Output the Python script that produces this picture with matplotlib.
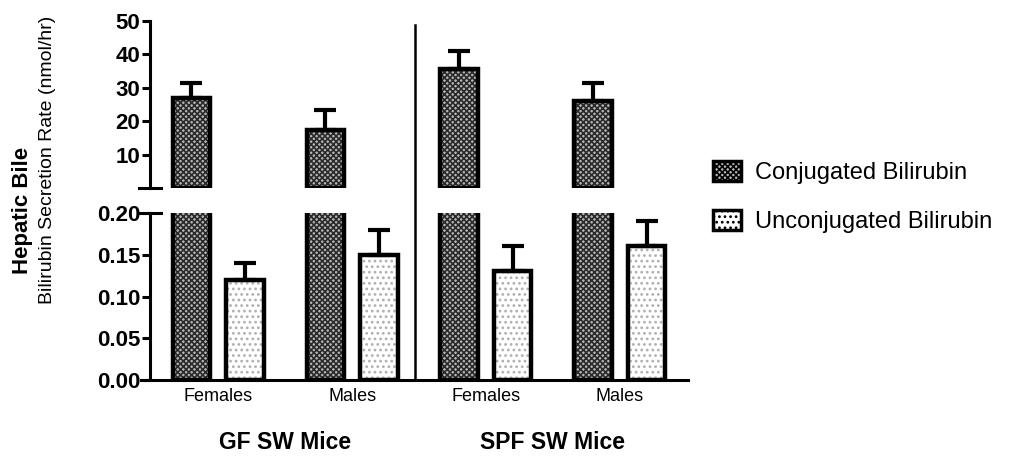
import numpy as np
import matplotlib
matplotlib.use('Agg')
import matplotlib.pyplot as plt
from matplotlib.patches import Patch

plt.rcParams['font.family'] = ['Liberation Sans', 'DejaVu Sans']
plt.rcParams['hatch.linewidth'] = 1.2

#------- data
groups = ['Females', 'Males', 'Females', 'Males']
mice = ['GF SW Mice', 'SPF SW Mice']
conj = [27.0, 17.5, 35.5, 26.0]
conj_err = [4.5, 6.0, 5.5, 5.5]
unconj = [0.12, 0.15, 0.13, 0.16]
unconj_err = [0.02, 0.03, 0.03, 0.03]
top_ticks = [10, 20, 30, 40, 50]
bot_ticks = [0.00, 0.05, 0.10, 0.15, 0.20]

x = np.arange(len(groups))
w = 0.28
off = 0.2

fig = plt.figure(figsize=(10.32, 4.65), dpi=100)
ax_top = fig.add_axes([0.1453, 0.5957, 0.5214, 0.3591])
ax_bot = fig.add_axes([0.1453, 0.1828, 0.5214, 0.3591])

conj_style = dict(facecolor='#b8b8b8', hatch='xxxxxx', edgecolor='#2a2a2a', linewidth=0)
unconj_style = dict(facecolor='white', hatch='...', edgecolor='#b0b0b0', linewidth=0)


def draw_bars(ax, vals, errs, pos, style):
    ax.bar(pos, vals, w, **style)
    ax.bar(pos, vals, w, fill=False, edgecolor='black', linewidth=3.2)
    ax.errorbar(pos, vals, yerr=[np.zeros(len(errs)), errs], fmt='none',
                ecolor='black', elinewidth=3, capsize=8, capthick=3)


draw_bars(ax_top, conj, conj_err, x - off, conj_style)
draw_bars(ax_bot, conj, conj_err, x - off, conj_style)
draw_bars(ax_bot, unconj, unconj_err, x + off, unconj_style)

ax_top.set_ylim(0, 50)
ax_bot.set_ylim(0, 0.2)
for ax in (ax_top, ax_bot):
    ax.set_xlim(-0.51, 3.51)
    ax.spines['top'].set_visible(False)
    ax.spines['right'].set_visible(False)
    ax.spines['left'].set_linewidth(2.2)
    ax.tick_params(axis='y', width=2.2, length=6, labelsize=16, pad=1)

ax_top.spines['bottom'].set_visible(False)
ax_top.set_xticks([])
ax_top.set_yticks(top_ticks)
ax_top.set_yticklabels([str(t) for t in top_ticks], fontweight='bold')
ax_top.plot([-0.02, 0.02], [0, 0], color='black', lw=2.2,
            transform=ax_top.get_yaxis_transform(), clip_on=False)

ax_bot.set_yticks(bot_ticks)
ax_bot.set_yticklabels(['%.2f' % t for t in bot_ticks], fontweight='bold')
ax_bot.plot([-0.02, 0.02], [0.2, 0.2], color='black', lw=2.2,
            transform=ax_bot.get_yaxis_transform(), clip_on=False)
ax_bot.spines['bottom'].set_linewidth(2.2)
ax_bot.spines['bottom'].set_bounds(-0.58, 3.51)
ax_bot.set_xticks(x)
ax_bot.set_xticklabels(groups, fontsize=13)
ax_bot.tick_params(axis='x', length=0, pad=6)

# divider between GF and SPF
ax_bot.axvline(1.47, ymin=0, ymax=2.125, color='black', lw=1.8, clip_on=False)

# group labels
for i, name in enumerate(mice):
    ax_bot.text(2 * i + 0.5, -0.075, name, ha='center', va='center',
                fontsize=16.5, fontweight='bold')

fig.text(0.022, 0.548, 'Hepatic Bile', rotation=90, ha='center', va='center',
         fontsize=16, fontweight='bold')
fig.text(0.046, 0.656, 'Bilirubin Secretion Rate (nmol/hr)', rotation=90,
         ha='center', va='center', fontsize=14)

handles = [Patch(facecolor='#b8b8b8', hatch='xxxxxx', edgecolor='black', linewidth=2.5),
           Patch(facecolor='white', hatch='...', edgecolor='black', linewidth=2.5)]
fig.legend(handles, ['Conjugated Bilirubin', 'Unconjugated Bilirubin'],
           loc='center left', bbox_to_anchor=(0.67, 0.576), frameon=False,
           fontsize=17, handlelength=1.2, handleheight=0.9, labelspacing=1.1,
           handletextpad=0.6)

plt.savefig('out.png', dpi=100)
